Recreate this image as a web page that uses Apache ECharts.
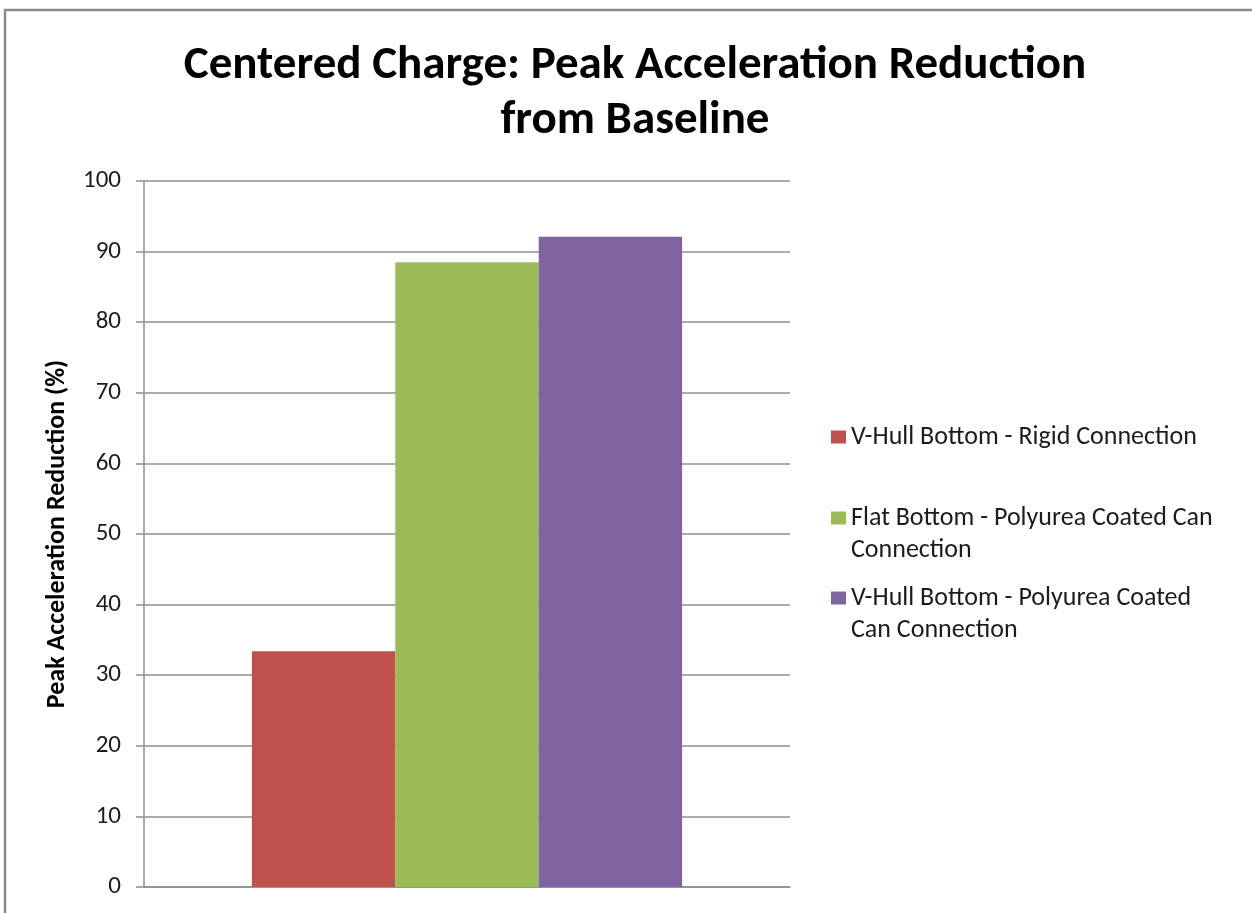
<!DOCTYPE html>
<html>
<head>
<meta charset="utf-8">
<style>
  html, body { margin: 0; padding: 0; background: #fff; }
  #chart { width: 1252px; height: 913px; }
</style>
<script src="https://cdn.jsdelivr.net/npm/echarts@6/dist/echarts.min.js"></script>
</head>
<body>
<div id="chart"></div>
<script>
// Peak acceleration reduction (%) relative to baseline, centered charge
const categories = [''];
const seriesNames = [
  'V-Hull Bottom - Rigid Connection',
  'Flat Bottom - Polyurea Coated Can Connection',
  'V-Hull Bottom - Polyurea Coated Can Connection'
];
const legendLabels = [
  'V-Hull Bottom - Rigid Connection',
  'Flat Bottom - Polyurea Coated Can\nConnection',
  'V-Hull Bottom - Polyurea Coated\nCan Connection'
];
const vHullRigid = [33.4];
const flatPolyurea = [88.5];
const vHullPolyurea = [92.1];
const seriesValues = [vHullRigid, flatPolyurea, vHullPolyurea];
const seriesColors = ['#C0504D', '#9BBB59', '#8064A2'];
const yTicks = { min: 0, max: 100, interval: 10 };

const FONT = 'Carlito, Calibri, Lato, "Liberation Sans", sans-serif';
const TEXT = '#1c1c1c';
const GRID_COLOR = '#8f8f8f';
const LINE_H = 32;

// one legend block per series; wrapped labels get a blank leading line so the
// swatch (centred on the text block) lines up with the first line of text
const legendIconCenters = [437, 518, 598];
const legends = seriesNames.map((name, i) => {
  const lines = legendLabels[i].split('\n');
  const label = lines.length === 1 ? lines[0] : ' \n' + lines.join('\n');
  const nLines = lines.length === 1 ? 1 : 3;
  return {
    data: [{ name: name, icon: 'rect' }],
    orient: 'vertical',
    left: 831,
    top: legendIconCenters[i] - nLines * LINE_H / 2,
    padding: 0,
    itemWidth: 15,
    itemHeight: 13,
    itemGap: 0,
    selectedMode: false,
    formatter: () => label,
    textStyle: {
      fontFamily: FONT,
      fontSize: 26,
      color: TEXT,
      lineHeight: LINE_H
    }
  };
});

const chart = echarts.init(document.getElementById('chart'), null, { renderer: 'canvas' });
chart.setOption({
  backgroundColor: '#ffffff',
  animation: false,
  title: {
    text: 'Centered Charge: Peak Acceleration Reduction\nfrom Baseline',
    left: 630,
    top: 34,
    textAlign: 'center',
    textStyle: {
      fontFamily: FONT,
      fontSize: 47,
      fontWeight: 'bold',
      color: '#000',
      lineHeight: 55
    }
  },
  graphic: [{
    type: 'rect',
    silent: true,
    shape: { x: 5, y: 10, width: 1400, height: 1000 },
    style: { fill: 'none', stroke: '#8a8a8a', lineWidth: 2.5 }
  }],
  legend: legends,
  grid: { left: 144, right: 462, top: 181, bottom: 26, containLabel: false },
  xAxis: {
    type: 'category',
    data: categories,
    axisLine: { show: true, lineStyle: { color: GRID_COLOR, width: 1.5 } },
    axisTick: { show: false },
    axisLabel: { show: false },
    splitLine: { show: false }
  },
  yAxis: {
    type: 'value',
    min: yTicks.min,
    max: yTicks.max,
    interval: yTicks.interval,
    name: 'Peak Acceleration Reduction (%)',
    nameLocation: 'middle',
    nameGap: 74,
    nameTextStyle: { fontFamily: FONT, fontSize: 26, fontWeight: 'bold', color: '#000' },
    axisLine: { show: true, lineStyle: { color: GRID_COLOR, width: 1.5 } },
    axisTick: { show: true, inside: false, length: 8, lineStyle: { color: GRID_COLOR, width: 1.5 } },
    axisLabel: { fontFamily: FONT, fontSize: 25, color: TEXT, margin: 23 },
    splitLine: { show: true, lineStyle: { color: GRID_COLOR, width: 1.5 } }
  },
  series: seriesNames.map((name, i) => ({
    name: name,
    type: 'bar',
    data: seriesValues[i],
    barGap: '0%',
    barCategoryGap: '33.4%',
    itemStyle: { color: seriesColors[i] }
  }))
});
</script>
</body>
</html>
